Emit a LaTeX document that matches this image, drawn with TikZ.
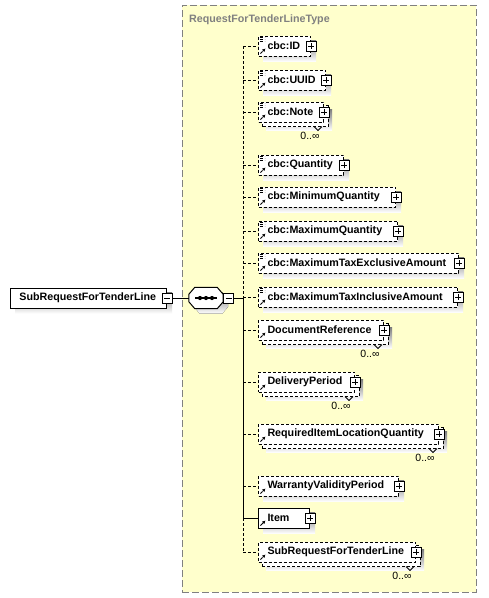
\documentclass[tikz,border=0pt]{standalone}
\usepackage{fontspec}
\setmainfont{Liberation Sans}
\usetikzlibrary{arrows.meta}
\definecolor{typefill}{HTML}{FFFFCC}
\definecolor{typeline}{HTML}{808080}
\definecolor{shade}{HTML}{C0C0C0}
\pgfdeclarelayer{back}
\pgfdeclarelayer{shadow}
\pgfsetlayers{back,shadow,main}
\newcommand\octagonpath[2]{([shift={(6pt+#1,#2)}]seq.north west) -- ([shift={(-6pt+#1,#2)}]seq.north east)
  -- ([shift={(#1,-7pt+#2)}]seq.north east) -- ([shift={(#1,7pt+#2)}]seq.south east)
  -- ([shift={(-6pt+#1,#2)}]seq.south east) -- ([shift={(6pt+#1,#2)}]seq.south west)
  -- ([shift={(#1,7pt+#2)}]seq.south west) -- ([shift={(#1,-7pt+#2)}]seq.north west) -- cycle}
\tikzset{
  opt/.style={dash pattern=on 3pt off 2pt},
  elem/.style={draw, fill=white, line width=1pt, anchor=west, inner xsep=9pt, inner ysep=0pt,
    minimum height=20pt, text width=#1, align=left, font=\bfseries\fontsize{10.7pt}{12pt}\selectfont},
  backbox/.style={draw, fill=white, line width=1pt, opt},
  ref/.style={path picture={
    \draw[line width=1pt, -{Latex[length=3.2pt,width=3.4pt]}] ([xshift=2pt,yshift=2.5pt]path picture bounding box.south west) -- ++(5pt,5pt);}},
  cbc/.style={path picture={
    \draw[line width=1pt, -{Latex[length=3.2pt,width=3.4pt]}] ([xshift=2pt,yshift=2.5pt]path picture bounding box.south west) -- ++(5pt,5pt);
    \foreach \d in {1.5,3.5,5.5}
      \draw[line width=0.8pt] ([xshift=1pt,yshift=-\d pt]path picture bounding box.north west) -- ++(5pt,0pt);}},
  btn/.style={draw, fill=white, line width=0.8pt, minimum size=10pt, inner sep=0pt},
  plusbtn/.style={btn, path picture={
    \draw ([xshift=2pt]path picture bounding box.west) -- ([xshift=-2pt]path picture bounding box.east)
          ([yshift=-2pt]path picture bounding box.north) -- ([yshift=2pt]path picture bounding box.south);}},
  minusbtn/.style={btn, path picture={
    \draw ([xshift=2pt]path picture bounding box.west) -- ([xshift=-2pt]path picture bounding box.east);}},
  occurs/.style={font=\fontsize{10.5pt}{12pt}\selectfont, inner sep=0pt},
  notch/.style={line width=0.8pt},
  seq/.style={minimum width=34pt, minimum height=21pt, inner sep=0pt}
}
\begin{document}
\begin{tikzpicture}[x=1pt,y=-1pt]
% complex type frame
\begin{pgfonlayer}{back}
\fill[white] (0,0) rectangle (489,598);
\node[draw=typeline, fill=typefill, line width=1pt, dash pattern=on 7pt off 3pt, minimum width=294pt, minimum height=587pt] (typebox) at (329,298.5) {};
\end{pgfonlayer}
\useasboundingbox (0,0) rectangle (489,598);
\node[anchor=base west, inner sep=0pt, text=typeline, font=\bfseries\fontsize{10.7pt}{12pt}\selectfont] (typename) at (189,22) {RequestForTenderLineType};

% element and sequence
\node[elem=138pt] (main) at (10,298) {SubRequestForTenderLine};
\node[minusbtn] (mainx) at (main.east) {};
\node[seq] (seq) at (206,298) {};
\fill[white] \octagonpath{0pt}{0pt};
\draw[line width=1pt] \octagonpath{0pt}{0pt};
\draw[line width=1.2pt] ([xshift=-11pt]seq.center) -- ([xshift=11pt]seq.center);
\foreach \d in {-6,0,6}
  \fill ([xshift=\d pt]seq.center) circle (2.1pt);
\node[minusbtn, anchor=west] (seqx) at (seq.east) {};
\coordinate (fork) at (243,298);
\draw[line width=1pt] (mainx.east) -- (seq.west);
\draw[line width=1pt] (seqx.east) -- (fork);

% children
\node[elem=34pt, opt, cbc] (id) at (258,46) {cbc:ID};
\node[plusbtn] (idx) at (id.east) {};
\node[elem=49pt, opt, cbc] (uuid) at (258,80) {cbc:UUID};
\node[plusbtn] (uuidx) at (uuid.east) {};
\node[elem=47pt, opt, cbc] (note) at (258,112) {cbc:Note};
\node[plusbtn] (notex) at (note.east) {};
\node[elem=67pt, opt, cbc] (quantity) at (258,165) {cbc:Quantity};
\node[plusbtn] (quantityx) at (quantity.east) {};
\node[elem=119pt, opt, cbc] (minqty) at (258,197) {cbc:MinimumQuantity};
\node[plusbtn] (minqtyx) at (minqty.east) {};
\node[elem=121pt, opt, cbc] (maxqty) at (258,231) {cbc:MaximumQuantity};
\node[plusbtn] (maxqtyx) at (maxqty.east) {};
\node[elem=182pt, opt, cbc] (maxexcl) at (258,263) {cbc:MaximumTaxExclusiveAmount};
\node[plusbtn] (maxexclx) at (maxexcl.east) {};
\node[elem=181pt, opt, cbc] (maxincl) at (258,297) {cbc:MaximumTaxInclusiveAmount};
\node[plusbtn] (maxinclx) at (maxincl.east) {};
\node[elem=107pt, opt, ref] (docref) at (258,330) {DocumentReference};
\node[plusbtn] (docrefx) at (docref.east) {};
\node[elem=78pt, opt, ref] (delivery) at (258,382) {DeliveryPeriod};
\node[plusbtn] (deliveryx) at (delivery.east) {};
\node[elem=162pt, opt, ref] (reqitem) at (258,434) {RequiredItemLocationQuantity};
\node[plusbtn] (reqitemx) at (reqitem.east) {};
\node[elem=122pt, opt, ref] (warranty) at (258,486) {WarrantyValidityPeriod};
\node[plusbtn] (warrantyx) at (warranty.east) {};
\node[elem=33pt, ref] (item) at (258,518) {Item};
\node[plusbtn] (itemx) at (item.east) {};
\node[elem=139pt, opt, ref] (subline) at (258,552) {SubRequestForTenderLine};
\node[plusbtn] (sublinex) at (subline.east) {};

% shadows and repeated boxes
\begin{pgfonlayer}{shadow}
\foreach \n in {main,id,uuid,quantity,minqty,maxqty,maxexcl,maxincl,warranty,item}
  \fill[shade] ([shift={(5pt,-5pt)}]\n.south west) rectangle ([shift={(5pt,-5pt)}]\n.north east);
\foreach \n in {note,docref,delivery,reqitem,subline}{
  \fill[shade] ([shift={(8pt,-8pt)}]\n.south west) rectangle ([shift={(8pt,-8pt)}]\n.north east);
  \draw[backbox] ([shift={(4pt,-4pt)}]\n.south west) rectangle ([shift={(4pt,-4pt)}]\n.north east);
  \draw[notch] ([xshift=-10pt,yshift=-4pt]\n.south east) -- ++(4pt,-4pt) -- ++(4pt,4pt);
}
\fill[shade] \octagonpath{5pt}{-5pt};
\end{pgfonlayer}

% occurrences
\node[occurs] (noteocc) at ([xshift=-14pt,yshift=-13pt]note.south east) {0..∞};
\node[occurs] (docrefocc) at ([xshift=-14pt,yshift=-13pt]docref.south east) {0..∞};
\node[occurs] (deliveryocc) at ([xshift=-14pt,yshift=-13pt]delivery.south east) {0..∞};
\node[occurs] (reqitemocc) at ([xshift=-14pt,yshift=-13pt]reqitem.south east) {0..∞};
\node[occurs] (sublineocc) at ([xshift=-14pt,yshift=-13pt]subline.south east) {0..∞};

% connectors
\draw[line width=1pt, opt] (id.west -| fork) -- (fork);
\draw[line width=1pt] (fork) -- (item.west -| fork);
\draw[line width=1pt, opt] (item.west -| fork) -- (subline.west -| fork);
\draw[line width=1pt, opt] (id.west -| fork) -- (id.west);
\draw[line width=1pt, opt] (uuid.west -| fork) -- (uuid.west);
\draw[line width=1pt, opt] (note.west -| fork) -- (note.west);
\draw[line width=1pt, opt] (quantity.west -| fork) -- (quantity.west);
\draw[line width=1pt, opt] (minqty.west -| fork) -- (minqty.west);
\draw[line width=1pt, opt] (maxqty.west -| fork) -- (maxqty.west);
\draw[line width=1pt, opt] (maxexcl.west -| fork) -- (maxexcl.west);
\draw[line width=1pt, opt] (maxincl.west -| fork) -- (maxincl.west);
\draw[line width=1pt, opt] (docref.west -| fork) -- (docref.west);
\draw[line width=1pt, opt] (delivery.west -| fork) -- (delivery.west);
\draw[line width=1pt, opt] (reqitem.west -| fork) -- (reqitem.west);
\draw[line width=1pt, opt] (warranty.west -| fork) -- (warranty.west);
\draw[line width=1pt] (item.west -| fork) -- (item.west);
\draw[line width=1pt, opt] (subline.west -| fork) -- (subline.west);
\end{tikzpicture}
\end{document}
